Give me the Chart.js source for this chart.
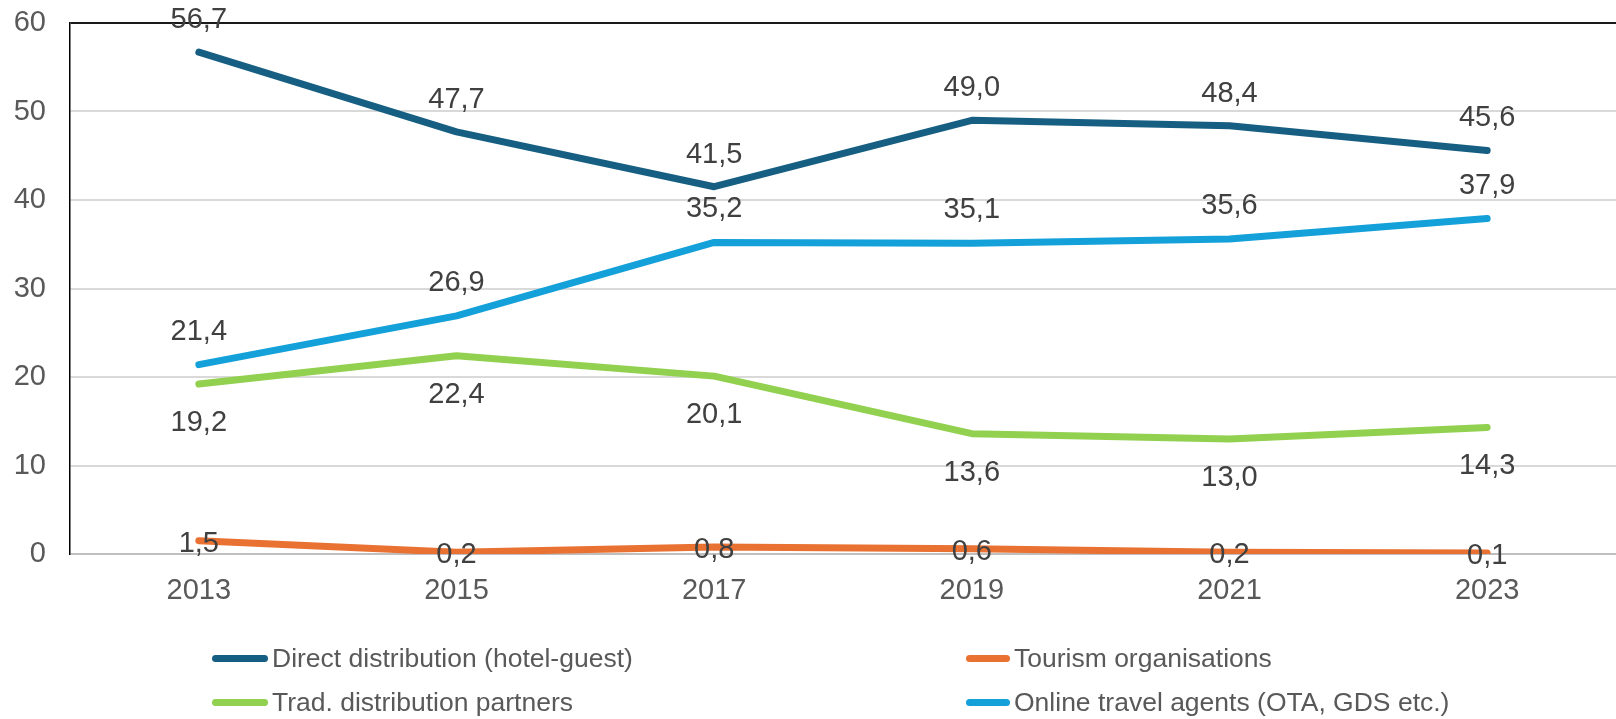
<!DOCTYPE html>
<html>
<head>
<meta charset="utf-8">
<script src="https://cdn.jsdelivr.net/npm/chart.js@4/dist/chart.umd.min.js"></script>
<style>
  html, body { margin: 0; padding: 0; background: #fff; }
  #wrap { position: relative; width: 1616px; height: 719px; }
  #chart { position: absolute; left: 0; top: 0; }
  .legend-item {
    position: absolute;
    font-family: "Liberation Sans", Arial, sans-serif;
    font-size: 26.5px;
    color: #595959;
    display: flex;
    align-items: center;
    white-space: nowrap;
  }
  .legend-item span.swatch {
    display: inline-block;
    height: 7px;
    border-radius: 4px;
    margin-right: 4px;
  }
</style>
</head>
<body>
<div id="wrap">
  <canvas id="chart" width="1616" height="719"></canvas>
  <div id="legend"></div>
</div>
<script>
const years = ['2013', '2015', '2017', '2019', '2021', '2023'];

const directDistribution = [56.7, 47.7, 41.5, 49.0, 48.4, 45.6];
const tourismOrganisations = [1.5, 0.2, 0.8, 0.6, 0.2, 0.1];
const tradPartners = [19.2, 22.4, 20.1, 13.6, 13.0, 14.3];
const onlineAgents = [21.4, 26.9, 35.2, 35.1, 35.6, 37.9];

const yTicks = [0, 10, 20, 30, 40, 50, 60];

const seriesNames = [
    'Direct distribution (hotel-guest)',
    'Tourism organisations',
    'Trad. distribution partners',
    'Online travel agents (OTA, GDS etc.)'
];
const seriesColors = ['#175F82', '#E97132', '#92D050', '#14A0D9'];
// where the value label sits relative to the point (px)
const labelOffsets = [-32, 3, 39, -33];

const fontFamily = '"Liberation Sans", Arial, sans-serif';

// draw the value labels (comma decimals) next to each point
const valueLabels = {
    id: 'valueLabels',
    afterDatasetsDraw(chart) {
        const ctx = chart.ctx;
        ctx.save();
        ctx.font = '29px ' + fontFamily;
        ctx.fillStyle = '#404040';
        ctx.textAlign = 'center';
        ctx.textBaseline = 'middle';
        chart.data.datasets.forEach((ds, i) => {
            const meta = chart.getDatasetMeta(i);
            meta.data.forEach((pt, j) => {
                const txt = ds.data[j].toFixed(1).replace('.', ',');
                ctx.fillText(txt, pt.x, pt.y + labelOffsets[i]);
            });
        });
        ctx.restore();
    }
};

const datasets = [directDistribution, tourismOrganisations, tradPartners, onlineAgents].map((d, i) => ({
    label: seriesNames[i],
    data: d,
    borderColor: seriesColors[i],
    backgroundColor: seriesColors[i],
    borderWidth: 7,
    borderCapStyle: 'round',
    borderJoinStyle: 'round',
    pointRadius: 0,
    tension: 0,
    order: i === 1 ? 0 : 1
}));

new Chart(document.getElementById('chart'), {
    type: 'line',
    data: { labels: years, datasets: datasets },
    options: {
        responsive: false,
        animation: false,
        layout: { padding: { top: 23, right: 0, left: 0, bottom: 0 } },
        plugins: {
            legend: { display: false },
            tooltip: { enabled: false }
        },
        scales: {
            x: {
                offset: true,
                grid: { display: false, drawTicks: false },
                border: { display: false },
                ticks: {
                    color: '#595959',
                    font: { family: fontFamily, size: 29 },
                    padding: 20,
                    maxRotation: 0
                },
                afterFit(scale) {
                    scale.height = 165;
                    scale.paddingLeft = 0;
                    scale.paddingRight = 0;
                }
            },
            y: {
                min: 0,
                max: 60,
                afterBuildTicks(scale) { scale.ticks = yTicks.map(v => ({ value: v })); },
                grid: {
                    drawTicks: false,
                    color: ctx => ctx.tick.value === 60 ? '#1a1a1a' : (ctx.tick.value === 0 ? '#bfbfbf' : '#d9d9d9'),
                    lineWidth: 2
                },
                border: { display: true, color: '#000', width: 1.5 },
                ticks: {
                    color: '#595959',
                    font: { family: fontFamily, size: 29 },
                    padding: 24
                },
                afterFit(scale) {
                    scale.width = 70;
                    scale.paddingTop = 0;
                    scale.paddingBottom = 0;
                }
            }
        }
    },
    plugins: [valueLabels]
});

// legend in two columns, as in the original
const legendPos = [
    { x: 212, y: 658, w: 56 },
    { x: 966, y: 658, w: 44 },
    { x: 212, y: 702, w: 56 },
    { x: 966, y: 702, w: 44 }
];
const legendEl = document.getElementById('legend');
seriesNames.forEach((name, i) => {
    const p = legendPos[i];
    const item = document.createElement('div');
    item.className = 'legend-item';
    item.style.left = p.x + 'px';
    item.style.top = (p.y - 16) + 'px';
    item.style.height = '32px';
    const sw = document.createElement('span');
    sw.className = 'swatch';
    sw.style.width = p.w + 'px';
    sw.style.background = seriesColors[i];
    item.appendChild(sw);
    item.appendChild(document.createTextNode(name));
    legendEl.appendChild(item);
});
</script>
</body>
</html>
